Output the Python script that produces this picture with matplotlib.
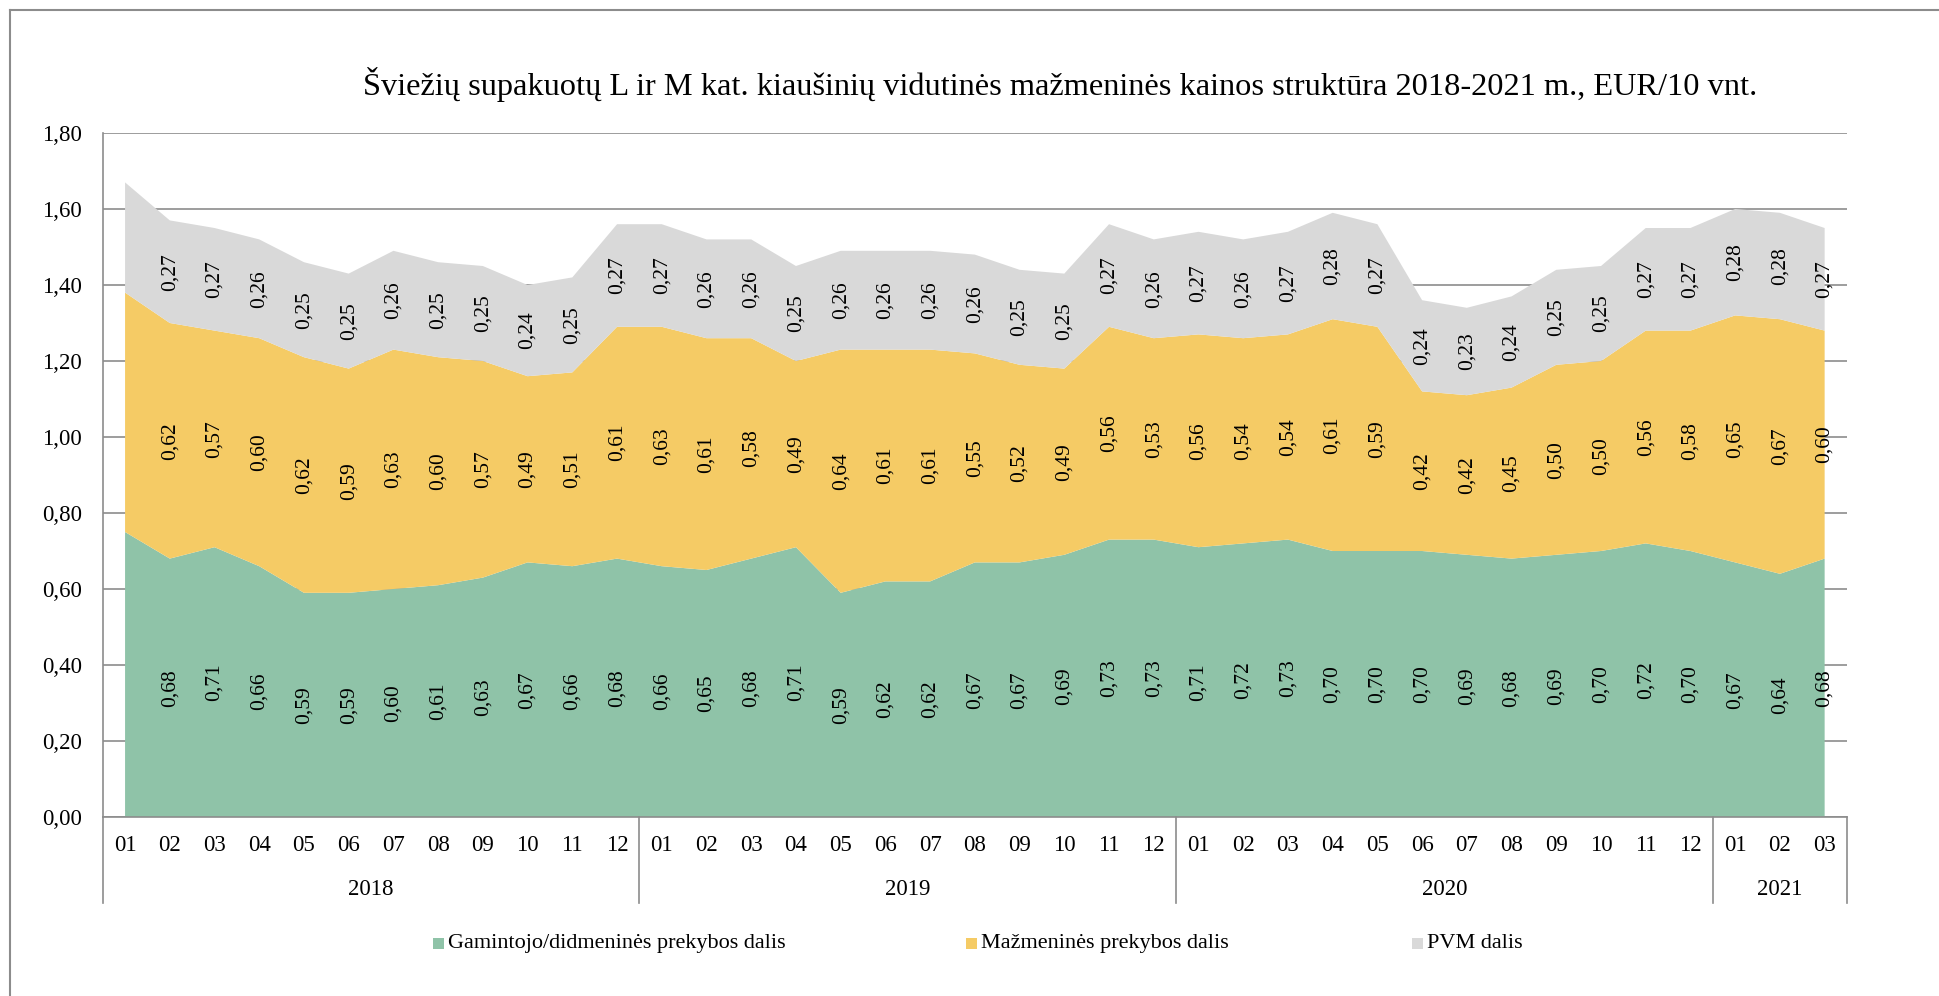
# -*- coding: utf-8 -*-

import numpy as np
import matplotlib.pyplot as plt
import matplotlib.transforms as mtransforms
from matplotlib.patches import Rectangle
from matplotlib.lines import Line2D
from matplotlib.ticker import FuncFormatter

plt.rcParams['font.family'] = ['Liberation Serif', 'DejaVu Serif']

years = ['2018', '2019', '2020', '2021']
months_per_year = [12, 12, 12, 3]
months = ['01', '02', '03', '04', '05', '06', '07', '08', '09', '10', '11', '12'] * 3 + ['01', '02', '03']

producer = [0.75, 0.68, 0.71, 0.66, 0.59, 0.59, 0.60, 0.61, 0.63, 0.67, 0.66, 0.68,
            0.66, 0.65, 0.68, 0.71, 0.59, 0.62, 0.62, 0.67, 0.67, 0.69, 0.73, 0.73,
            0.71, 0.72, 0.73, 0.70, 0.70, 0.70, 0.69, 0.68, 0.69, 0.70, 0.72, 0.70,
            0.67, 0.64, 0.68]
retail = [0.63, 0.62, 0.57, 0.60, 0.62, 0.59, 0.63, 0.60, 0.57, 0.49, 0.51, 0.61,
          0.63, 0.61, 0.58, 0.49, 0.64, 0.61, 0.61, 0.55, 0.52, 0.49, 0.56, 0.53,
          0.56, 0.54, 0.54, 0.61, 0.59, 0.42, 0.42, 0.45, 0.50, 0.50, 0.56, 0.58,
          0.65, 0.67, 0.60]
vat = [0.29, 0.27, 0.27, 0.26, 0.25, 0.25, 0.26, 0.25, 0.25, 0.24, 0.25, 0.27,
       0.27, 0.26, 0.26, 0.25, 0.26, 0.26, 0.26, 0.26, 0.25, 0.25, 0.27, 0.26,
       0.27, 0.26, 0.27, 0.28, 0.27, 0.24, 0.23, 0.24, 0.25, 0.25, 0.27, 0.27,
       0.28, 0.28, 0.27]

series_names = ['Gamintojo/didmeninės prekybos dalis', 'Mažmeninės prekybos dalis', 'PVM dalis']
colors = ['#8FC3A8', '#F5CB65', '#D9D9D9']
title = 'Šviežių supakuotų L ir M kat. kiaušinių vidutinės mažmeninės kainos struktūra 2018-2021 m., EUR/10 vnt.'

W, H = 1939, 996
fig = plt.figure(figsize=(W / 100, H / 100), dpi=100)
ax = fig.add_axes([102.7 / W, 1 - 817 / H, (1847 - 102.7) / W, (817 - 133) / H])

x = np.arange(len(months))
ax.stackplot(x, producer, retail, vat, colors=colors, zorder=2)

ax.set_xlim(-0.5, len(months) - 0.5)
ax.set_ylim(0, 1.8)
ax.set_yticks(np.arange(0, 1.81, 0.2))
ax.yaxis.set_major_formatter(FuncFormatter(lambda v, p: f'{v:.2f}'.replace('.', ',')))
ax.grid(axis='y', color='#8C8C8C', linewidth=1.2, zorder=0)
ax.set_axisbelow(True)
ax.tick_params(axis='y', length=0, pad=15, labelsize=16.5)

ax.set_xticks(x)
ax.set_xticklabels(months)
ax.tick_params(axis='x', length=0, pad=13, labelsize=16.5)

for s in ['top', 'right']:
    ax.spines[s].set_visible(False)
for s in ['left', 'bottom']:
    ax.spines[s].set_color('#8C8C8C')
    ax.spines[s].set_linewidth(1.2)

# data labels (first month has none in the original)
fmt = lambda v: f'{v:.2f}'.replace('.', ',')
for i in range(1, len(months)):
    b = 0
    for vals in (producer, retail, vat):
        ax.text(i, b + vals[i] / 2, fmt(vals[i]), rotation=90, ha='center', va='center',
                fontsize=15.5, zorder=5)
        b += vals[i]

# year grouping below the axis
trans = mtransforms.blended_transform_factory(ax.transData, ax.transAxes)
depth = -(903 - 817) / (817 - 133)
start = 0
bounds = [-0.5]
for yr, n in zip(years, months_per_year):
    ax.text(start + (n - 1) / 2, -(889 - 817) / (817 - 133), yr, transform=trans,
            ha='center', va='center', fontsize=16.5)
    start += n
    bounds.append(start - 0.5)
for bx in bounds:
    ax.add_line(Line2D([bx, bx], [0, depth], transform=trans, color='#8C8C8C',
                       linewidth=1.2, clip_on=False))

fig.text(1060 / W, 1 - 84 / H, title, ha='center', va='center', fontsize=23.3)

# legend
leg_x = [433, 966, 1412]
for lx, name, c in zip(leg_x, series_names, colors):
    fig.add_artist(Rectangle((lx / W, 1 - 949 / H), 11 / W, 11 / H, transform=fig.transFigure,
                             facecolor=c, edgecolor='none'))
    fig.text((lx + 15) / W, 1 - 943 / H, name, ha='left', va='center', fontsize=16)

# outer frame
fig.add_artist(Line2D([10 / W, 1], [1 - 10 / H, 1 - 10 / H], transform=fig.transFigure,
                      color='#8C8C8C', linewidth=1.5))
fig.add_artist(Line2D([10 / W, 10 / W], [0, 1 - 10 / H], transform=fig.transFigure,
                      color='#8C8C8C', linewidth=1.5))

fig.savefig('out.png', dpi=100)
